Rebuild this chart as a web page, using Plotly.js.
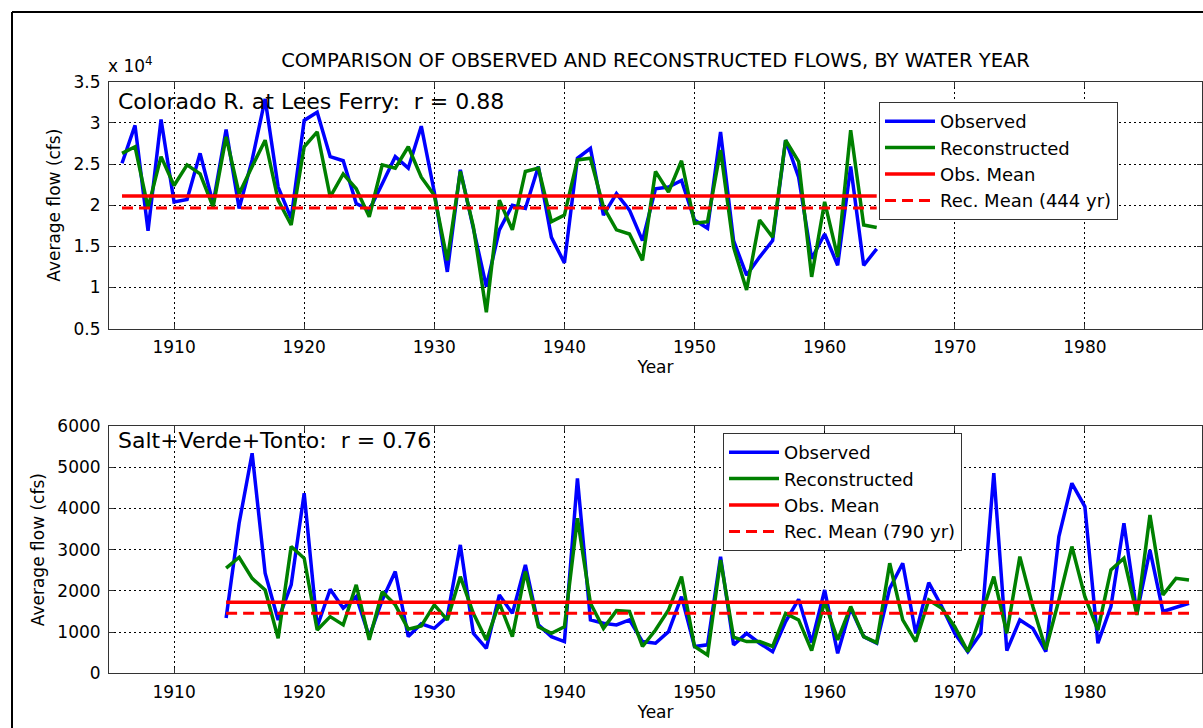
<!DOCTYPE html>
<html>
<head>
<meta charset="utf-8">
<script src="https://cdn.plot.ly/plotly-3.0.1.min.js"></script>
<style>html,body{margin:0;padding:0;background:#fff;}#chart{width:1203px;height:728px;}</style>
</head>
<body>
<div id="chart"></div>
<script>
// ---------- Data ----------
const yearsLF = [1906,1907,1908,1909,1910,1911,1912,1913,1914,1915,1916,1917,1918,1919,1920,
  1921,1922,1923,1924,1925,1926,1927,1928,1929,1930,1931,1932,1933,1934,1935,1936,1937,1938,1939,1940,
  1941,1942,1943,1944,1945,1946,1947,1948,1949,1950,1951,1952,1953,1954,1955,1956,1957,1958,1959,1960,
  1961,1962,1963,1964];
const observedLF = [25100,29700,16900,30400,20400,20700,26300,20200,29200,19600,25500,32900,22200,18400,30300,
  31300,25900,25400,20200,19400,22600,25900,24500,29600,21600,11900,24300,17400,10100,17000,20000,19600,24700,16100,13000,
  25700,26900,18800,21400,19400,15700,22000,22200,23000,18200,17200,28900,15700,11500,13700,15700,27900,23400,13500,16500,
  12700,24700,12700,14700];
const reconstructedLF = [26300,27100,19700,25900,22400,24900,23800,19800,28300,21400,24700,27900,20600,17600,27100,
  28900,21000,23800,22000,18600,24900,24500,27100,23400,21200,13300,24100,17400,7000,20600,17000,24100,24500,18000,18800,
  25500,25700,19800,17000,16500,13300,24100,21600,25400,17800,18000,26700,14900,9700,18200,16100,27900,25300,11300,20400,
  13700,29100,17600,17300];
const obsMeanLF = 21130;
const recMeanLF = 19670;
const meanSpanLF = [1906, 1964];

const yearsSVT = [1914,1915,1916,1917,1918,1919,1920,1921,1922,1923,1924,1925,1926,1927,1928,1929,1930,
  1931,1932,1933,1934,1935,1936,1937,1938,1939,1940,1941,1942,1943,1944,1945,1946,1947,1948,1949,1950,
  1951,1952,1953,1954,1955,1956,1957,1958,1959,1960,1961,1962,1963,1964,1965,1966,1967,1968,1969,1970,
  1971,1972,1973,1974,1975,1976,1977,1978,1979,1980,1981,1982,1983,1984,1985,1986,1987,1988];
const observedSVT = [1340,3640,5340,2430,1295,2145,4370,1130,2040,1580,1860,890,1780,2470,890,1200,1090,
  1375,3115,970,607,1900,1455,2630,1175,890,770,4730,1295,1215,1175,1295,770,730,1010,1860,650,
  690,2830,690,970,730,525,1255,1795,750,2020,485,1580,890,730,2060,2670,970,2200,1620,970,
  525,970,4855,550,1295,1090,525,3320,4610,4045,730,1620,3640,1455,2990,1500,1600,1700];
const reconstructedSVT = [2550,2815,2305,2020,850,3075,2790,1050,1375,1175,2145,810,1980,1660,1070,1150,1660,
  1295,2345,1455,810,1700,890,2470,1130,970,1130,3760,1700,1090,1520,1500,650,1050,1540,2345,650,
  445,2750,875,770,770,650,1455,1295,550,1740,810,1620,890,745,2670,1295,770,1780,1580,1130,
  525,1375,2345,970,2830,1620,580,1780,3075,1860,1050,2510,2790,1415,3840,1900,2305,2265];
const obsMeanSVT = 1723;
const recMeanSVT = 1456;
const meanSpanSVT = [1914, 1988];

const xTicks = [1910,1920,1930,1940,1950,1960,1970,1980];
const yTicksLF = [5000,10000,15000,20000,25000,30000,35000];
const yTickTextLF = ['0.5','1','1.5','2','2.5','3','3.5'];
const yTicksSVT = [0,1000,2000,3000,4000,5000,6000];

// ---------- Styles ----------
const BLUE = '#0000ff', GREEN = '#008000', RED = '#ff0000';
const FONT = 'DejaVu Sans, sans-serif';

function mk(x, y, name, color, dash, xa, ya, leg) {
  return {x: x, y: y, name: name, type: 'scatter', mode: 'lines',
    line: {color: color, width: dash ? 3 : 3.5, dash: dash || 'solid'},
    xaxis: xa, yaxis: ya, legend: leg, hoverinfo: 'skip'};
}

const traces = [
  mk(yearsLF, observedLF, 'Observed', BLUE, null, 'x', 'y', 'legend'),
  mk(yearsLF, reconstructedLF, 'Reconstructed', GREEN, null, 'x', 'y', 'legend'),
  mk(meanSpanLF, [obsMeanLF, obsMeanLF], 'Obs. Mean', RED, null, 'x', 'y', 'legend'),
  mk(meanSpanLF, [recMeanLF, recMeanLF], 'Rec. Mean (444 yr)', RED, '11px,6px', 'x', 'y', 'legend'),
  mk(yearsSVT, observedSVT, 'Observed', BLUE, null, 'x2', 'y2', 'legend2'),
  mk(yearsSVT, reconstructedSVT, 'Reconstructed', GREEN, null, 'x2', 'y2', 'legend2'),
  mk(meanSpanSVT, [obsMeanSVT, obsMeanSVT], 'Obs. Mean', RED, null, 'x2', 'y2', 'legend2'),
  mk(meanSpanSVT, [recMeanSVT, recMeanSVT], 'Rec. Mean (790 yr)', RED, '11px,6px', 'x2', 'y2', 'legend2')
];

const W = 1203, H = 728, ML = 109, MR = 1;
const PW = W - ML - MR;
const px = v => (v - ML) / PW;      // pixel x -> paper x
const py = v => 1 - v / H;          // pixel y -> paper y

function xax(anchor) {
  return {domain: [0, 1], anchor: anchor, range: [1905, 1989], tickvals: xTicks,
    ticks: 'inside', ticklen: 5, tickcolor: '#333', showline: true, linecolor: '#333', linewidth: 1,
    mirror: 'ticks', showgrid: true, gridcolor: '#000', griddash: '2px,3px', gridwidth: 1,
    zeroline: false, tickfont: {size: 17, color: '#000'}, ticklabelstandoff: 3,
    title: {text: 'Year', font: {size: 17, color: '#000'}, standoff: 3}};
}
function yax(anchor, domain, range, tv, tt) {
  const a = {domain: domain, anchor: anchor, range: range, tickvals: tv,
    ticks: 'inside', ticklen: 5, tickcolor: '#333', showline: true, linecolor: '#333', linewidth: 1,
    mirror: 'ticks', showgrid: true, gridcolor: '#000', griddash: '2px,3px', gridwidth: 1,
    zeroline: false, tickfont: {size: 17, color: '#000'}, ticklabelstandoff: 4,
    title: {text: 'Average flow (cfs)', font: {size: 17, color: '#000'}, standoff: 8}};
  if (tt) a.ticktext = tt;
  return a;
}

const legendStyle = (x, y) => ({x: x, y: y, xanchor: 'left', yanchor: 'top', xref: 'paper', yref: 'paper',
  bgcolor: '#fff', bordercolor: '#333', borderwidth: 1, font: {size: 18, color: '#000', family: FONT},
  itemwidth: 50, tracegroupgap: 0, entrywidth: 235, entrywidthmode: 'pixels'});

const layout = {
  width: W, height: H,
  margin: {l: ML, r: MR, t: 0, b: 0},
  paper_bgcolor: '#fff', plot_bgcolor: '#fff',
  font: {family: FONT, size: 17, color: '#000'},
  title: {text: 'COMPARISON OF OBSERVED AND RECONSTRUCTED FLOWS, BY WATER YEAR',
    font: {size: 19.5, color: '#000'}, x: 0.5, xref: 'paper', xanchor: 'center',
    y: py(60), yref: 'container', yanchor: 'middle'},
  xaxis: xax('y'),
  yaxis: yax('x', [py(328.7), py(81.7)], [5000, 35000], yTicksLF, yTickTextLF),
  xaxis2: xax('y2'),
  yaxis2: yax('x2', [py(673.3), py(426)], [0, 6000], yTicksSVT, null),
  showlegend: true,
  legend: legendStyle(px(879), py(102)),
  legend2: legendStyle(px(723), py(433)),
  annotations: [
    {text: 'x 10<sup>4</sup>', xref: 'paper', yref: 'paper', x: px(106), y: py(78),
     xanchor: 'left', yanchor: 'bottom', showarrow: false, font: {size: 17, color: '#000'}},
    {text: 'Colorado R. at Lees Ferry:\u00a0 r = 0.88', xref: 'paper', yref: 'paper', x: px(116), y: py(101.7),
     xanchor: 'left', yanchor: 'middle', showarrow: false, font: {size: 22, color: '#000'}},
    {text: 'Salt+Verde+Tonto:\u00a0 r = 0.76', xref: 'paper', yref: 'paper', x: px(116), y: py(440),
     xanchor: 'left', yanchor: 'middle', showarrow: false, font: {size: 22, color: '#000'}}
  ],
  shapes: [
    {type: 'line', xref: 'paper', yref: 'paper', x0: px(12), x1: px(1210), y0: py(12), y1: py(12),
     line: {color: '#000', width: 2}},
    {type: 'line', xref: 'paper', yref: 'paper', x0: px(12), x1: px(12), y0: py(12), y1: py(735),
     line: {color: '#000', width: 2}}
  ]
};

Plotly.newPlot('chart', traces, layout, {displayModeBar: false, staticPlot: true});
</script>
</body>
</html>
